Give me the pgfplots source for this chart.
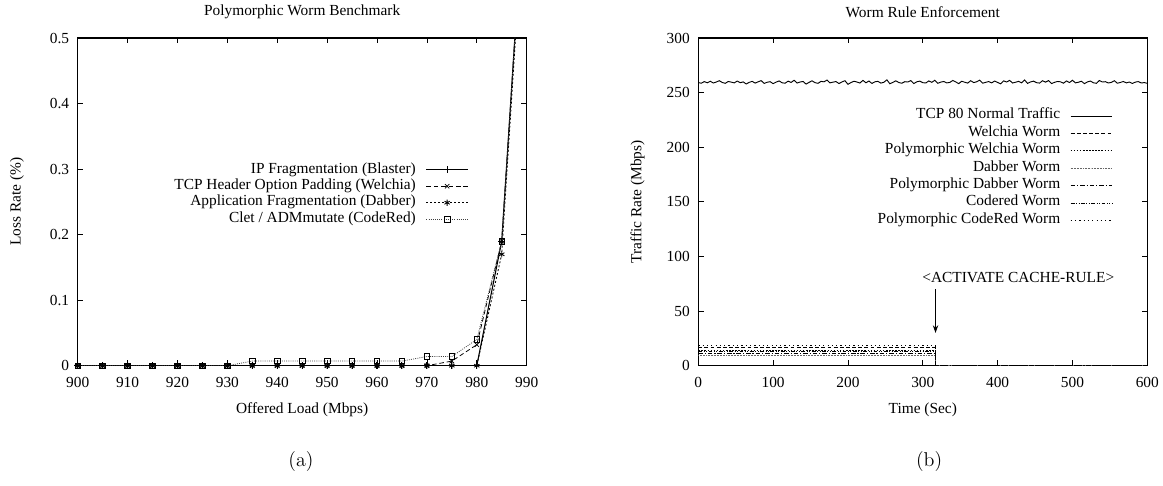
\documentclass[border=0pt]{standalone}
\usepackage{fontspec}
\usepackage{pgfplots}
\pgfplotsset{compat=1.18}
\usetikzlibrary{arrows.meta}
\newfontfamily\plotfont{Liberation Serif}

% gnuplot-like look shared by both panels
\pgfplotsset{
  gp/.style={
    scale only axis, width=291.85pt, height=213pt,
    font=\plotfont\fontsize{10}{12}\selectfont,
    /pgf/number format/assume math mode=true,
    tick align=inside, major tick length=3.5pt,
    axis line style={line width=0.9pt},
    every tick/.style={black, line width=0.5pt},
    xticklabel style={yshift=-4pt},
    yticklabel style={xshift=-2pt},
    every axis title shift=0pt,
    title style={at={([yshift=17pt]axis description cs:0.5,1)}, anchor=center},
    xlabel style={at={([yshift=-28.8pt]axis description cs:0.5,0)}, anchor=center},
    ylabel style={at={([xshift=-39.5pt]axis description cs:0,0.5)}, anchor=center},
    legend plot pos=right,
    legend cell align=right,
    legend style={draw=none, fill=none, inner sep=0pt, column sep=6.5pt,
      nodes={inner sep=0pt, text height=7.5pt, text depth=3.2pt}},
    legend image code/.code={\draw[mark repeat=2, mark phase=2, #1]
      plot coordinates {(0pt,0pt) (13.5pt,0pt) (27pt,0pt)};},
  }
}

\begin{document}
\begin{tikzpicture}
\useasboundingbox (0,0) rectangle (755.95pt,315.9pt);

% ---------------- (a) loss rate vs offered load ----------------
\begin{axis}[gp, at={(50.5pt,78.2pt)}, anchor=south west,
  xmin=900, xmax=990, ymin=0, ymax=0.5,
  xtick={900,910,...,990},
  ytick={0,0.1,0.2,0.3,0.4,0.5}, yticklabels={0,0.1,0.2,0.3,0.4,0.5},
  title={Polymorphic Worm Benchmark},
  xlabel={Offered Load (Mbps)}, ylabel={Loss Rate (\%)},
  legend style={at={(0.871,0.624)}, anchor=north east},
]
\addplot[black, line width=0.7pt, mark=+, mark size=2.2pt, mark options={solid}] coordinates {
 (900,0) (905,0) (910,0) (915,0) (920,0) (925,0) (930,0) (935,0) (940,0) (945,0)
 (950,0) (955,0) (960,0) (965,0) (970,0) (975,0) (980,0) (985,0.19) (990,0.78)};
\addlegendentry{IP Fragmentation (Blaster)}
\addplot[black, line width=0.5pt, dash pattern=on 3pt off 1.8pt, mark=x, mark size=2pt, mark options={solid}] coordinates {
 (900,0) (905,0) (910,0) (915,0) (920,0) (925,0) (930,0) (935,0) (940,0) (945,0)
 (950,0) (955,0) (960,0) (965,0) (970,0) (975,0.007) (980,0.032) (985,0.19) (990,0.78)};
\addlegendentry{TCP Header Option Padding (Welchia)}
\addplot[black, line width=0.55pt, dash pattern=on 1.3pt off 1.3pt, mark=asterisk, mark size=2pt, mark options={solid}] coordinates {
 (900,0) (905,0) (910,0) (915,0) (920,0) (925,0) (930,0) (935,0) (940,0) (945,0)
 (950,0) (955,0) (960,0) (965,0) (970,0) (975,0) (980,0) (985,0.17) (990,0.77)};
\addlegendentry{Application Fragmentation (Dabber)}
\addplot[black!75, line width=0.5pt, dash pattern=on 0.6pt off 0.8pt, mark=square, mark size=1.8pt, mark options={solid, black}] coordinates {
 (900,0) (905,0) (910,0) (915,0) (920,0) (925,0) (930,0) (935,0.007) (940,0.007) (945,0.007)
 (950,0.007) (955,0.007) (960,0.007) (965,0.007) (970,0.014) (975,0.014) (980,0.04) (985,0.19) (990,0.78)};
\addlegendentry{Clet / ADMmutate (CodeRed)}
\end{axis}

% ---------------- (b) traffic rate over time ----------------
\begin{axis}[gp, at={(453.9pt,78.2pt)}, anchor=south west,
  xmin=0, xmax=600, ymin=0, ymax=300,
  xtick={0,100,...,600}, ytick={0,50,...,300},
  title={Worm Rule Enforcement},
  xlabel={Time (Sec)}, ylabel={Traffic Rate (Mbps)},
  legend style={at={(0.9236,0.789)}, anchor=north east,
    nodes={inner sep=0pt, text height=7.5pt, text depth=3.8pt}},
]
\addplot[black, line width=0.6pt] coordinates {
 (0,259.2) (4,258.6) (8,260.1) (12,259.0) (16,260.4) (20,258.8) (24,259.7) (28,260.9)
 (32,259.3) (36,258.5) (40,260.2) (44,259.6) (48,258.9) (52,260.6) (56,259.1) (60,259.8)
 (64,257.9) (68,259.4) (72,260.3) (76,258.7) (80,259.9) (84,261.0) (88,258.4) (92,259.5)
 (96,260.0) (100,258.2) (104,259.6) (108,260.7) (112,259.0) (116,258.6) (120,260.5) (124,259.3)
 (128,261.3) (132,258.8) (136,259.7) (140,260.2) (144,257.8) (148,259.4) (152,260.8) (156,259.1)
 (160,258.5) (164,260.3) (168,259.9) (172,261.5) (176,258.9) (180,259.6) (184,260.1) (188,258.3)
 (192,259.8) (196,260.9) (200,257.6) (204,259.2) (208,260.4) (212,259.7) (216,258.8) (220,261.2)
 (224,259.0) (228,260.6) (232,258.4) (236,259.9) (240,260.3) (244,258.7) (248,259.5) (252,261.7)
 (256,258.1) (260,259.4) (264,260.8) (268,259.2) (272,258.6) (276,260.0) (280,259.7) (284,261.0)
 (288,258.3) (292,259.9) (296,260.5) (300,259.1) (304,258.8) (308,260.7) (312,259.4) (316,261.3)
 (320,258.5) (324,259.6) (328,260.2) (332,258.9) (336,259.3) (340,261.1) (344,259.8) (348,258.2)
 (352,260.4) (356,259.5) (360,258.7) (364,260.9) (368,259.2) (372,259.9) (376,261.4) (380,258.6)
 (384,259.4) (388,260.1) (392,258.9) (396,260.6) (400,259.3) (404,258.0) (408,260.8) (412,259.7)
 (416,261.2) (420,258.8) (424,259.5) (428,260.3) (432,259.0) (436,261.6) (440,258.4) (444,259.8)
 (448,260.5) (452,259.1) (456,258.7) (460,260.9) (464,259.6) (468,261.0) (472,258.3) (476,259.4)
 (480,260.2) (484,259.9) (488,258.6) (492,260.7) (496,259.2) (500,261.3) (504,258.9) (508,259.5)
 (512,260.4) (516,258.2) (520,259.8) (524,260.6) (528,259.0) (532,258.5) (536,261.1) (540,259.7)
 (544,260.0) (548,258.8) (552,259.4) (556,260.9) (560,258.6) (564,259.3) (568,260.2) (572,258.9)
 (576,259.7) (580,258.4) (584,259.6) (588,260.1) (592,258.8) (596,259.2) (600,258.5)};
\addlegendentry{TCP 80 Normal Traffic}
\addplot[black, line width=0.55pt, dash pattern=on 2.5pt off 1.5pt] coordinates {
 (0,16.5) (317,16.5) (317,0) (600,0)};
\addlegendentry{Welchia Worm}
\addplot[black, line width=0.55pt, dash pattern=on 1pt off 1pt] coordinates {
 (0,14.4) (317,14.4) (317,0) (600,0)};
\addlegendentry{Polymorphic Welchia Worm}
\addplot[black!60, line width=0.55pt, dash pattern=on 0.5pt off 0.5pt] coordinates {
 (0,9.5) (317,9.5) (317,0) (600,0)};
\addlegendentry{Dabber Worm}
\addplot[black, line width=0.55pt, dash pattern=on 3pt off 1.2pt on 0.8pt off 1.2pt] coordinates {
 (0,11.4) (317,11.4) (317,0) (600,0)};
\addlegendentry{Polymorphic Dabber Worm}
\addplot[black, line width=0.55pt, dash pattern=on 2.5pt off 1pt on 0.6pt off 1pt on 0.6pt off 1pt] coordinates {
 (0,12.8) (317,12.8) (317,0) (600,0)};
\addlegendentry{Codered Worm}
\addplot[black, line width=0.55pt, dash pattern=on 0.8pt off 2pt] coordinates {
 (0,18.3) (317,18.3) (317,0) (600,0)};
\addlegendentry{Polymorphic CodeRed Worm}
\draw[-{Stealth[length=5pt,width=3.5pt]}, line width=0.5pt] (axis cs:317,70) -- (axis cs:317,30);
\node[anchor=west, inner sep=0pt] at (axis cs:299,80.3) {<ACTIVATE CACHE-RULE>};
\end{axis}

\node at (195.65pt,15.6pt) {\fontsize{13}{15}\selectfont (a)};
\node at (603.9pt,15.6pt) {\fontsize{13}{15}\selectfont (b)};
\end{tikzpicture}
\end{document}
